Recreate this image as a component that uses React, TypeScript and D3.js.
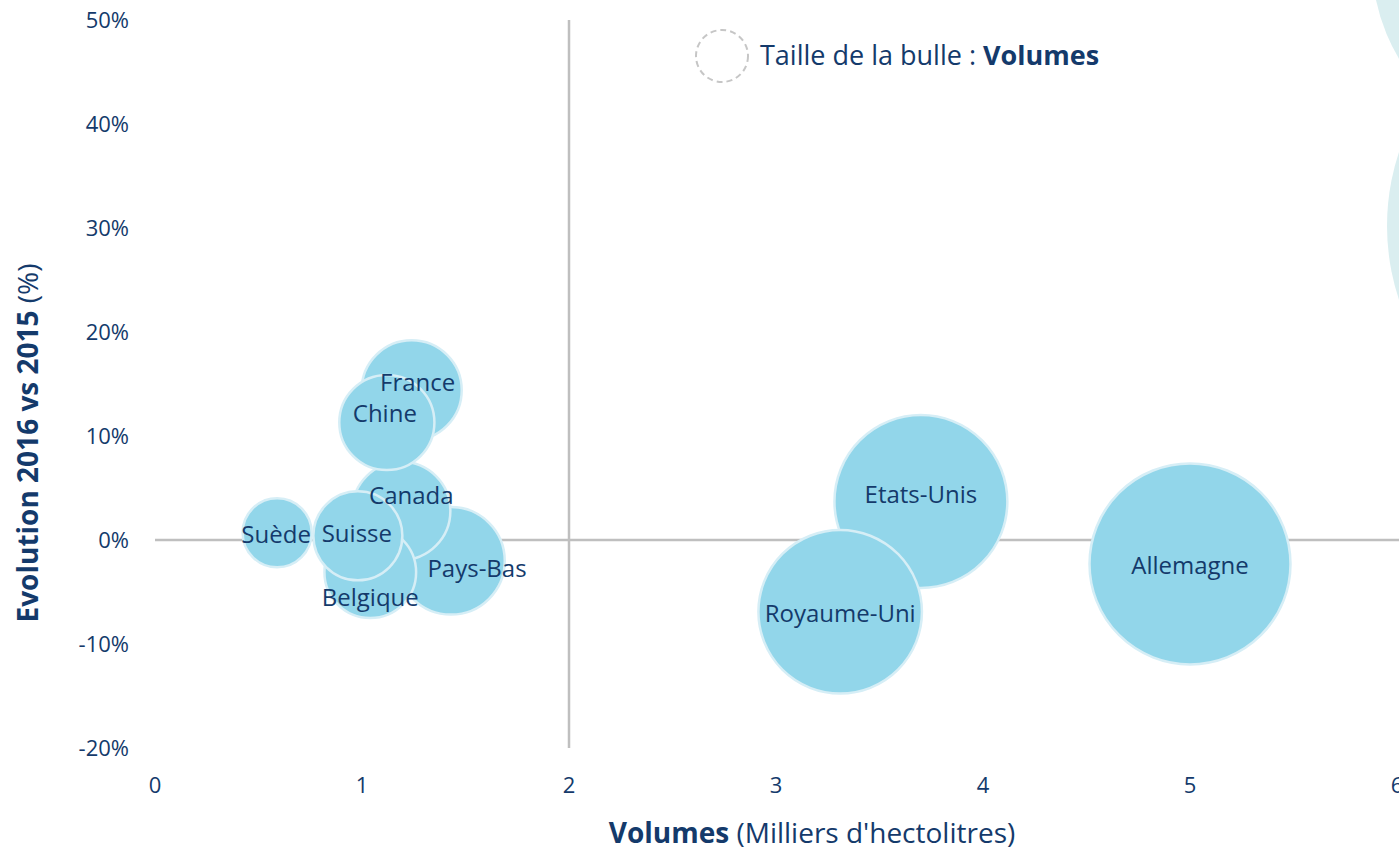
import * as React from "react";
import * as d3 from "d3";

// pays, volumes (milliers d'hl), évolution 2016 vs 2015
const countries = ["Allemagne", "Etats-Unis", "Royaume-Uni", "Pays-Bas", "France", "Canada", "Chine", "Belgique", "Suisse", "Suède"];
const volumes = [5.0, 3.7, 3.31, 1.43, 1.24, 1.19, 1.12, 1.04, 0.98, 0.59];
const evolution = [-0.023, 0.037, -0.069, -0.02, 0.144, 0.028, 0.113, -0.031, 0.004, 0.007];

// bulles hors champ (coin haut droit), à peine visibles
const offVolumes = [18, 27];
const offX = [6.8, 7.08];
const offEvolution = [0.557, 0.302];

const xTicks = [0, 1, 2, 3, 4, 5, 6];
const yTicks = [-0.2, -0.1, 0, 0.1, 0.2, 0.3, 0.4, 0.5];

// petits décalages des étiquettes (en px) comme sur l'original
const nudge = {
    "France": [6, -8], "Chine": [-2, -9], "Canada": [10, -15], "Suède": [-1, 2], "Suisse": [-1, -2],
    "Belgique": [0, 25], "Pays-Bas": [26, 8], "Etats-Unis": [0, -7], "Royaume-Uni": [0, 2], "Allemagne": [0, 2]
};

const navy = "#143A6B";
const font = "'Open Sans', Lato, sans-serif";

export default function App() {
    const node = React.useRef(null);

    React.useEffect(() => {
        const svg = d3.select(node.current);
        svg.selectAll("*").remove();

        const x = d3.scaleLinear().domain([0, 6]).range([155, 1397]);
        const y = d3.scaleLinear().domain([-0.2, 0.5]).range([748, 20]);
        const r = d3.scaleSqrt().domain([0, 5]).range([0, 100.5]);

        // bulles décoratives estompées
        svg.append("g").selectAll("circle")
            .data(offVolumes)
            .join("circle")
            .attr("cx", (d, i) => x(offX[i]))
            .attr("cy", (d, i) => y(offEvolution[i]))
            .attr("r", d => r(d))
            .attr("fill", "#DAEEF0");

        // lignes de référence
        svg.append("line")
            .attr("x1", x(0)).attr("x2", 1399)
            .attr("y1", y(0)).attr("y2", y(0))
            .style("stroke", "#BFBFBF").style("stroke-width", "2.5px");
        svg.append("line")
            .attr("x1", x(2)).attr("x2", x(2))
            .attr("y1", y(0.5)).attr("y2", y(-0.2))
            .style("stroke", "#BFBFBF").style("stroke-width", "2.5px");

        // graduations
        svg.append("g").selectAll("text")
            .data(yTicks)
            .join("text")
            .attr("x", 129)
            .attr("y", d => y(d))
            .attr("dy", "0.35em")
            .attr("text-anchor", "end")
            .attr("fill", navy)
            .style("font", "22px " + font)
            .text(d => Math.round(d * 100) + "%");

        svg.append("g").selectAll("text")
            .data(xTicks)
            .join("text")
            .attr("x", d => x(d))
            .attr("y", 785)
            .attr("dy", "0.35em")
            .attr("text-anchor", "middle")
            .attr("fill", navy)
            .style("font", "22px " + font)
            .text(d => d);

        // bulles : les plus grosses d'abord
        const data = countries.map((c, i) => ({ name: c, vol: volumes[i], evo: evolution[i] }))
            .sort((a, b) => b.vol - a.vol);

        svg.append("g").selectAll("circle")
            .data(data)
            .join("circle")
            .attr("cx", d => x(d.vol))
            .attr("cy", d => y(d.evo))
            .attr("r", d => r(d.vol))
            .attr("fill", "#92D6EA")
            .style("stroke", "#D6EEF6")
            .style("stroke-width", "2.5px");

        svg.append("g").selectAll("text")
            .data(data)
            .join("text")
            .attr("x", d => x(d.vol) + nudge[d.name][0])
            .attr("y", d => y(d.evo) + nudge[d.name][1])
            .attr("dy", "0.35em")
            .attr("text-anchor", "middle")
            .attr("fill", navy)
            .style("font", "24px " + font)
            .text(d => d.name);

        // légende
        svg.append("circle")
            .attr("cx", 722).attr("cy", 56).attr("r", 26)
            .attr("fill", "none")
            .style("stroke", "#C6C6C6").style("stroke-width", "2px")
            .style("stroke-dasharray", "6,4");
        const leg = svg.append("text")
            .attr("x", 760).attr("y", 56).attr("dy", "0.35em")
            .attr("fill", navy)
            .style("font", "27px " + font);
        leg.append("tspan").text("Taille de la bulle : ");
        leg.append("tspan").style("font-weight", "bold").text("Volumes");

        // titres des axes
        const xt = svg.append("text")
            .attr("x", 812).attr("y", 833).attr("dy", "0.35em")
            .attr("text-anchor", "middle")
            .attr("fill", navy)
            .style("font", "28px " + font);
        xt.append("tspan").style("font-weight", "bold").text("Volumes");
        xt.append("tspan").text(" (Milliers d'hectolitres)");

        const yt = svg.append("text")
            .attr("transform", "translate(28,443) rotate(-90)")
            .attr("dy", "0.35em")
            .attr("text-anchor", "middle")
            .attr("fill", navy)
            .style("font", "28px " + font);
        yt.append("tspan").style("font-weight", "bold").text("Evolution 2016 vs 2015");
        yt.append("tspan").text(" (%)");
    }, []);

    return <svg ref={node} width="1399" height="851" style={{ position: "absolute", left: 0, top: 0, background: "#fff" }}></svg>;
}
